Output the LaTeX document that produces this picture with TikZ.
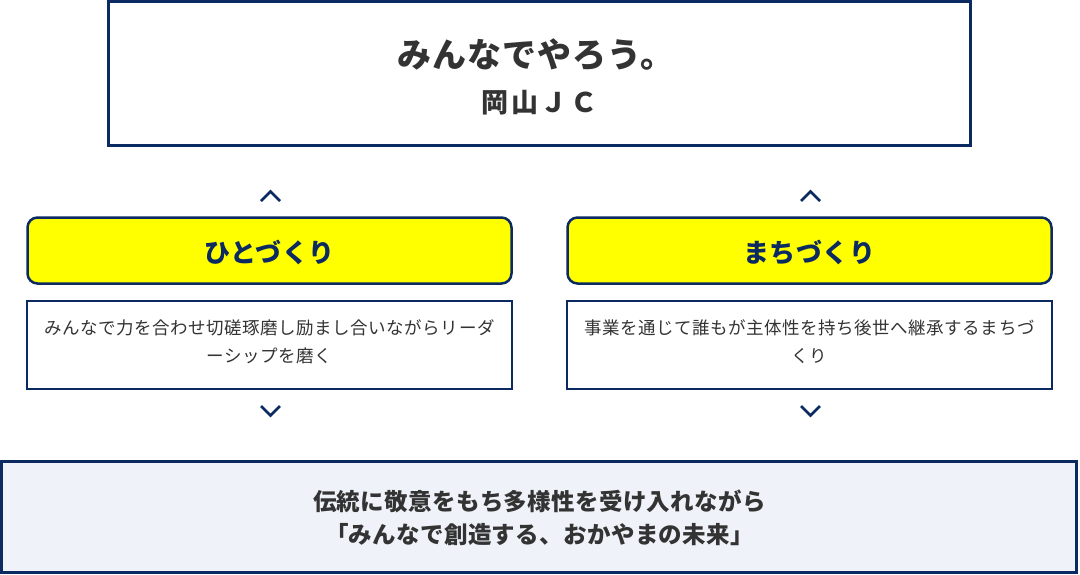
\documentclass[tikz,border=0pt]{standalone}
\usepackage{fontspec}
\setmainfont{Noto Sans CJK JP}
\definecolor{navy}{HTML}{0B2A62}
\definecolor{txt}{HTML}{333333}
\definecolor{ylw}{HTML}{FFFF00}
\definecolor{pale}{HTML}{EFF3F9}
\tikzset{
  frame/.style={draw=navy, line width=3pt, inner sep=0pt},
  pill/.style={draw=navy, fill=ylw, line width=2.5pt, rounded corners=10pt, inner sep=0pt, minimum width=484pt, minimum height=66pt},
  descbox/.style={draw=navy, line width=1.5pt, inner sep=0pt, minimum width=485pt, minimum height=88pt},
  chev/.style={draw=navy, line width=2.5pt},
  title/.style={text=txt, font=\bfseries\fontsize{34}{38}\selectfont\addfontfeature{LetterSpace=3}},
  subtitle/.style={text=txt, font=\bfseries\fontsize{27}{30}\selectfont\addfontfeature{LetterSpace=10}},
  pilltext/.style={text=navy, font=\bfseries\fontsize{26}{28}\selectfont\addfontfeature{LetterSpace=2}},
  desctext/.style={text=txt, align=center, inner sep=0pt, font=\fontsize{17.5}{28}\selectfont\addfontfeature{LetterSpace=3}},
  bottext/.style={text=txt, align=center, inner sep=0pt, font=\bfseries\fontsize{23.5}{33}\selectfont\addfontfeature{LetterSpace=1.5}},
}
\begin{document}
\begin{tikzpicture}[x=1pt,y=-1pt]
\useasboundingbox (0,0) rectangle (1080,574);
% top box
\node[frame, fill=white, minimum width=862pt, minimum height=144pt] (top) at (539.5,73.5) {};
\node[title] (t1) at (536,55) {みんなでやろう。};
\node[subtitle] (t2) at (539.5,103) {岡山ＪＣ};
% pills
\node[pill] (pl) at (269.5,250.5) {};
\node[pill] (pr) at (809.5,250.5) {};
\node[pilltext] (plt) at (269.5,252) {ひとづくり};
\node[pilltext] (prt) at (809.5,252) {まちづくり};
% descriptions
\node[descbox] (dl) at (269.5,345) {};
\node[descbox] (dr) at (809.5,345) {};
\node[desctext] (dlt) at (269.5,342) {みんなで力を合わせ切磋琢磨し励まし合いながらリーダ\\ーシップを磨く};
\node[desctext] (drt) at (809.5,342) {事業を通じて誰もが主体性を持ち後世へ継承するまちづ\\くり};
% bottom
\node[frame, fill=pale, minimum width=1075pt, minimum height=111pt] (bot) at (539,517) {};
\node[bottext] (bt) at (539.5,518) {伝統に敬意をもち多様性を受け入れながら\\「みんなで創造する、おかやまの未来」};
% chevrons
\foreach \x in {270.5, 810.5}{
  \draw[chev] (\x-9.5,201) -- (\x,191.5) -- (\x+9.5,201);
  \draw[chev] (\x-9.5,406) -- (\x,415.5) -- (\x+9.5,406);
}
\end{tikzpicture}
\end{document}
